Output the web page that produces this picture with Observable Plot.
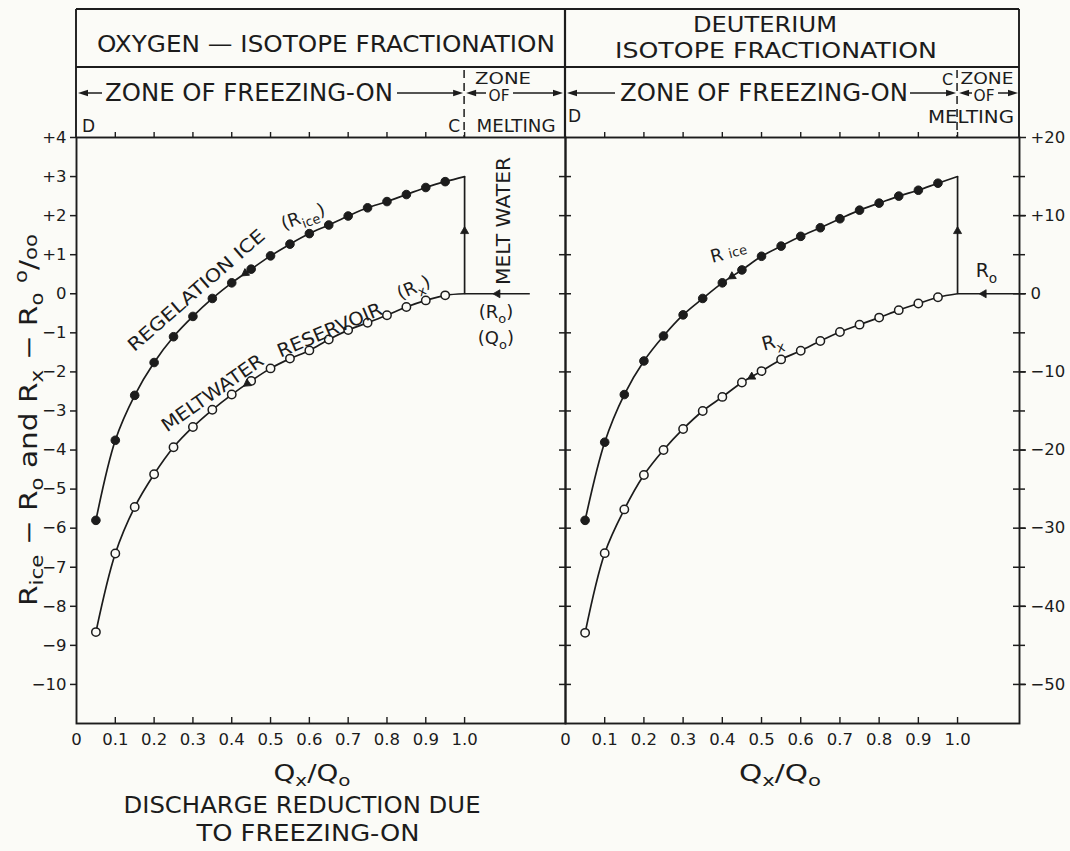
<!DOCTYPE html>
<html>
<head>
<meta charset="utf-8">
<script src="https://cdn.jsdelivr.net/npm/d3@7"></script>
<script src="https://cdn.jsdelivr.net/npm/@observablehq/plot@0.6"></script>
<style>
html,body{margin:0;padding:0;background:#fbfbf7;}
#fig{position:relative;width:1070px;height:851px;overflow:hidden;background:#fbfbf7;}
#fig > svg{position:absolute;top:0;}
</style>
</head>
<body>
<div id="fig"></div>
<script>
const INK = "#1c1c1c";
const PAPER = "#fbfbf7";
const FONT = "'DejaVu Sans', 'Liberation Sans', Arial, sans-serif";

// ---------------- data ----------------
const dischargeRatio = [0.05, 0.10, 0.15, 0.20, 0.25, 0.30, 0.35, 0.40, 0.45, 0.50, 0.55, 0.60, 0.65, 0.70, 0.75, 0.80, 0.85, 0.90, 0.95];
const oxygenIce = [-5.80, -3.75, -2.60, -1.76, -1.10, -0.58, -0.12, 0.28, 0.63, 0.97, 1.27, 1.54, 1.76, 1.99, 2.20, 2.36, 2.54, 2.72, 2.87];
const oxygenReservoir = [-8.66, -6.65, -5.46, -4.62, -3.93, -3.41, -2.97, -2.58, -2.23, -1.91, -1.66, -1.45, -1.17, -0.93, -0.74, -0.55, -0.34, -0.17, -0.04];
const deuteriumIce = [-29.0, -19.0, -12.9, -8.6, -5.4, -2.7, -0.6, 1.4, 3.05, 4.8, 6.1, 7.35, 8.45, 9.6, 10.7, 11.6, 12.5, 13.25, 14.15];
const deuteriumReservoir = [-43.4, -33.2, -27.6, -23.2, -20.0, -17.3, -15.0, -13.2, -11.35, -9.9, -8.4, -7.3, -6.05, -4.9, -3.95, -3.05, -2.1, -1.25, -0.45];

// point C' (end of freezing-on) and inflow R0 / Q0
const cPrimeRatio = 1.0;
const oxygenIceAtC = 3.0;
const deuteriumIceAtC = 15.0;
const reservoirAtC = 0;
const oxygenInflowFrom = 1.168;
const deuteriumInflowFrom = 1.158;

// ---------------- ticks ----------------
const ratioTicks = [0.1, 0.2, 0.3, 0.4, 0.5, 0.6, 0.7, 0.8, 0.9, 1.0];
const ratioTickValues = [0, 0.1, 0.2, 0.3, 0.4, 0.5, 0.6, 0.7, 0.8, 0.9, 1.0];
const ratioTickLabels = ["0", "0.1", "0.2", "0.3", "0.4", "0.5", "0.6", "0.7", "0.8", "0.9", "1.0"];
const oxygenTickValues = [4, 3, 2, 1, 0, -1, -2, -3, -4, -5, -6, -7, -8, -9, -10];
const oxygenTickLabels = ["+4", "+3", "+2", "+1", "0", "\u22121", "\u22122", "\u22123", "\u22124", "\u22125", "\u22126", "\u22127", "\u22128", "\u22129", "\u221210"];
const deuteriumTickValues = [20, 10, 0, -10, -20, -30, -40, -50];
const deuteriumTickLabels = ["+20", "+10", "0", "\u221210", "\u221220", "\u221230", "\u221240", "\u221250"];
const deuteriumMinorTicks = [15, 10, 5, 0, -5, -10, -15, -20, -25, -30, -35, -40, -45, -50];

// ---------------- layout ----------------
const W = 1070, H = 851, TOP = 137, BOTTOM = 723;
const fig = document.getElementById("fig");

function labelOf(values, labels) { return d => labels[values.findIndex(v => Math.abs(v - d) < 1e-9)] ?? ""; }

function panel(p) {
  const pw = p.width - p.marginLeft - p.marginRight;
  const ph = BOTTOM - TOP;
  const kx = pw / (p.xDomain[1] - p.xDomain[0]);
  const ky = ph / (p.yDomain[1] - p.yDomain[0]);
  const ice = p.ice.map((v, i) => ({q: dischargeRatio[i], v}));
  const res = p.res.map((v, i) => ({q: dischargeRatio[i], v}));
  const iceLine = [...ice, {q: cPrimeRatio, v: p.iceAtC}];
  const resLine = [...res, {q: cPrimeRatio, v: reservoirAtC}];
  const along = (arr, i, j, t) => {
    const a = arr[i], b = arr[j];
    const dx = (b.q - a.q) * kx, dy = -(b.v - a.v) * ky;
    return {q: a.q + (b.q - a.q) * t, v: a.v + (b.v - a.v) * t, rot: Math.atan2(dx, -dy) * 180 / Math.PI};
  };
  const heads = [
    along(ice, p.iceHead[0], p.iceHead[1], p.iceHead[2]),
    along(res, p.resHead[0], p.resHead[1], p.resHead[2]),
    {q: cPrimeRatio, v: p.upHeadAt, rot: 0},
    {q: p.inHeadAt, v: reservoirAtC, rot: -90}
  ];
  const links = [
    {x1: cPrimeRatio, y1: reservoirAtC, x2: cPrimeRatio, y2: p.iceAtC},
    {x1: p.inflowFrom, y1: reservoirAtC, x2: cPrimeRatio, y2: reservoirAtC}
  ];
  const plot = Plot.plot({
    width: p.width, height: H,
    marginLeft: p.marginLeft, marginRight: p.marginRight, marginTop: TOP, marginBottom: H - BOTTOM,
    x: {domain: p.xDomain}, y: {domain: p.yDomain},
    style: {background: "transparent", fontFamily: FONT, fontSize: "16.5px", color: INK, overflow: "visible"},
    marks: [
      Plot.frame({stroke: INK, strokeWidth: 1.9}),
      ...p.axes(pw, ph),
      Plot.ruleX(ratioTicks, {x: d => d, insetBottom: ph - 5, dy: -5, stroke: INK, strokeWidth: 1.4}),
      Plot.ruleX(ratioTicks, {x: d => d, insetTop: ph - 6, stroke: INK, strokeWidth: 1.4}),
      Plot.axisX({anchor: "bottom", ticks: ratioTickValues, tickSize: 0, tickPadding: 10, tickFormat: labelOf(ratioTickValues, ratioTickLabels), fontSize: 16.5, label: null, color: INK}),
      Plot.line(iceLine, {x: "q", y: "v", curve: "catmull-rom", stroke: INK, strokeWidth: 1.7}),
      Plot.line(resLine, {x: "q", y: "v", curve: "catmull-rom", stroke: INK, strokeWidth: 1.7}),
      Plot.link(links, {x1: "x1", y1: "y1", x2: "x2", y2: "y2", stroke: INK, strokeWidth: 1.7}),
      Plot.dot(ice, {x: "q", y: "v", r: 4.3, fill: INK, stroke: INK, strokeWidth: 1}),
      Plot.dot(res, {x: "q", y: "v", r: 4.2, fill: PAPER, stroke: INK, strokeWidth: 1.5}),
      Plot.dot(heads, {x: "q", y: "v", rotate: "rot", symbol: "triangle", r: 3, fill: INK, stroke: INK, strokeWidth: 0.8})
    ]
  });
  plot.style.left = p.left + "px";
  fig.appendChild(plot);
  const sx = plot.scale("x"), sy = plot.scale("y");
  return {X: v => sx.apply(v) + p.left, Y: v => sy.apply(v)};
}

const L = panel({
  left: 0, width: 566, marginLeft: 76, marginRight: 1,
  xDomain: [0, 1.26], yDomain: [-11, 4],
  ice: oxygenIce, res: oxygenReservoir, iceAtC: oxygenIceAtC, inflowFrom: oxygenInflowFrom,
  iceHead: [8, 7, 0.3], resHead: [8, 7, 0.2], upHeadAt: 1.6, inHeadAt: 1.085,
  axes: (pw, ph) => [
    Plot.axisY({anchor: "left", ticks: oxygenTickValues, tickSize: 6, tickPadding: 4, tickFormat: labelOf(oxygenTickValues, oxygenTickLabels), fontSize: 16.5, label: null, color: INK, strokeWidth: 1.5})
  ]
});

const R = panel({
  left: 500, width: 570, marginLeft: 65, marginRight: 51,
  xDomain: [0, 1.158], yDomain: [-55, 20],
  ice: deuteriumIce, res: deuteriumReservoir, iceAtC: deuteriumIceAtC, inflowFrom: deuteriumInflowFrom,
  iceHead: [8, 7, 0.5], resHead: [9, 8, 0.5], upHeadAt: 8.0, inHeadAt: 1.067,
  axes: (pw, ph) => [
    Plot.axisY({anchor: "right", ticks: deuteriumTickValues, tickSize: 6, tickPadding: 5, tickFormat: labelOf(deuteriumTickValues, deuteriumTickLabels), fontSize: 16.5, label: null, color: INK, strokeWidth: 1.5}),
    Plot.ruleY(deuteriumMinorTicks, {y: d => d, insetLeft: pw - 12, dx: 6, stroke: INK, strokeWidth: 1.5}),
    Plot.ruleY(deuteriumMinorTicks, {y: d => d, insetRight: pw - 12, dx: -6, stroke: INK, strokeWidth: 1.5})
  ]
});

// ---------------- overlay: header, titles, annotations ----------------
const svg = d3.select(fig).append("svg")
  .attr("width", W).attr("height", H)
  .style("left", "0px").style("pointer-events", "none")
  .attr("font-family", FONT).attr("fill", INK);

function rtext({x, y, rotate = 0, anchor = "middle", size, parts, length, sub = 0.3}) {
  const t = svg.append("text")
    .attr("transform", `translate(${x},${y}) rotate(${rotate})`)
    .attr("text-anchor", anchor).attr("font-size", size).attr("fill", INK);
  if (length) t.attr("textLength", length).attr("lengthAdjust", "spacingAndGlyphs");
  let shift = 0;
  for (const part of parts) {
    const [str, kind] = Array.isArray(part) ? part : [part, 0];
    const fs = kind ? size * 0.72 : size;
    const target = kind === 1 ? size * sub : kind === 2 ? -size * 0.42 : 0;
    t.append("tspan").attr("font-size", fs).attr("dy", target - shift).text(str);
    shift = target;
  }
  return t;
}
function seg(x1, y1, x2, y2, w = 1.9, dash = null) {
  const l = svg.append("line").attr("x1", x1).attr("y1", y1).attr("x2", x2).attr("y2", y2)
    .attr("stroke", INK).attr("stroke-width", w);
  if (dash) l.attr("stroke-dasharray", dash);
}
function head(x, y, dir) { // tip at (x,y)
  const s = dir === "right" ? -1 : 1;
  svg.append("path").attr("d", `M${x},${y}L${x + s * 10},${y - 3.2}L${x + s * 10},${y + 3.2}Z`).attr("fill", INK);
}

// header boxes
const xL0 = L.X(0), xMid = R.X(0), xR1 = R.X(1.158);
const yTop = 9, yRow = 67;
seg(xL0, yTop, xR1, yTop);
seg(xL0, yRow, xR1, yRow);
seg(xL0, yTop, xL0, TOP);
seg(xMid, yTop, xMid, TOP, 2.2);
seg(xR1, yTop, xR1, TOP);

// titles
rtext({x: 326, y: 52, size: 23, parts: ["OXYGEN \u2014 ISOTOPE FRACTIONATION"], length: 458});
rtext({x: 765, y: 32, size: 22, parts: ["DEUTERIUM"], length: 144});
rtext({x: 776, y: 58, size: 22, parts: ["ISOTOPE FRACTIONATION"], length: 322});

// zone row (left)
const cL = L.X(cPrimeRatio), cR = R.X(cPrimeRatio);
const yArr = 93;
head(xL0 + 2, yArr, "left"); seg(xL0 + 10, yArr, 102, yArr, 1.5);
rtext({x: 105, y: 101, anchor: "start", size: 24, parts: ["ZONE OF FREEZING-ON"], length: 288});
seg(397, yArr, cL - 8, yArr, 1.5); head(cL - 1, yArr, "right");
seg(cL, 70, cL, TOP, 1.5, "8,5");
rtext({x: 82, y: 132, anchor: "start", size: 17, parts: ["D"]});
rtext({x: cL - 4, y: 132, anchor: "end", size: 17, parts: ["C"]});
rtext({x: 503, y: 84, size: 15, parts: ["ZONE"], length: 56});
head(cL + 2, yArr, "left"); seg(cL + 10, yArr, 486, yArr, 1.5);
rtext({x: 499, y: 101, size: 15, parts: ["OF"], length: 21});
seg(513, yArr, xMid - 8, yArr, 1.5); head(xMid - 2, yArr, "right");
rtext({x: 516, y: 132, size: 17, parts: ["MELTING"], length: 79});

// zone row (right)
head(xMid + 2, yArr, "left"); seg(xMid + 10, yArr, 615, yArr, 1.5);
rtext({x: 620, y: 101, anchor: "start", size: 24, parts: ["ZONE OF FREEZING-ON"], length: 288});
seg(910, yArr, cR - 8, yArr, 1.5); head(cR - 1, yArr, "right");
seg(cR, 70, cR, TOP, 1.5, "8,5");
rtext({x: xMid + 3, y: 122, anchor: "start", size: 17, parts: ["D"]});
rtext({x: cR - 4, y: 85, anchor: "end", size: 16, parts: ["C"]});
rtext({x: 987, y: 84, size: 15, parts: ["ZONE"], length: 53});
head(cR + 2, yArr, "left"); seg(cR + 10, yArr, 972, yArr, 1.5);
rtext({x: 984, y: 101, size: 15, parts: ["OF"], length: 21});
seg(998, yArr, xR1 - 8, yArr, 1.5); head(xR1 - 1, yArr, "right");
rtext({x: 971, y: 123, size: 17, parts: ["MELTING"], length: 86});

// axis titles & caption
rtext({x: 37, y: 420, rotate: -90, size: 24, length: 372, sub: 0.26,
  parts: ["R", ["ice", 1], " \u2212 R", ["o", 1], " and R", ["x", 1], " \u2212 R", ["o", 1], "  ", ["o", 2], "/", ["oo", 3]]});
rtext({x: 312, y: 781, size: 23, sub: 0.22, parts: ["Q", ["x", 1], "/Q", ["o", 1]], length: 77});
rtext({x: 780, y: 781, size: 23, sub: 0.22, parts: ["Q", ["x", 1], "/Q", ["o", 1]], length: 82});
rtext({x: 302, y: 813, size: 22.5, parts: ["DISCHARGE REDUCTION DUE"], length: 357});
rtext({x: 308, y: 841, size: 22.5, parts: ["TO FREEZING-ON"], length: 223});

// curve annotations, anchored in data coordinates
const oxygenNotes = [
  {q: 0.320, v: -0.04, rot: -41, size: 18, parts: ["REGELATION  ICE"], length: 175},
  {q: 0.590, v: 1.82, rot: -20, size: 18, parts: ["(R", ["ice", 1], ")"]},
  {q: 0.361, v: -2.68, rot: -35, size: 18.5, parts: ["MELTWATER"], length: 120},
  {q: 0.660, v: -1.09, rot: -23, size: 18.5, parts: ["RESERVOIR"], length: 112},
  {q: 0.876, v: 0.01, rot: -24, size: 18, parts: ["(R", ["x", 1], ")"]},
  {q: 1.118, v: 1.85, rot: -90, size: 19, parts: ["MELT WATER"], length: 128},
  {q: 1.082, v: -0.63, rot: 0, size: 18, parts: ["(R", ["o", 1], ")"]},
  {q: 1.082, v: -1.30, rot: 0, size: 18, parts: ["(Q", ["o", 1], ")"]}
];
const deuteriumNotes = [
  {q: 0.421, v: 4.5, rot: -15, size: 18, parts: ["R ", ["ice", 3]]},
  {q: 0.533, v: -7.0, rot: -15, size: 19, parts: ["R", ["x", 1]]},
  {q: 1.075, v: 2.1, rot: 0, size: 19, parts: ["R", ["o", 1]]}
];
for (const n of oxygenNotes) rtext({x: L.X(n.q), y: L.Y(n.v), rotate: n.rot, size: n.size, parts: n.parts, length: n.length});
for (const n of deuteriumNotes) rtext({x: R.X(n.q), y: R.Y(n.v), rotate: n.rot, size: n.size, parts: n.parts, length: n.length});
</script>
</body>
</html>
